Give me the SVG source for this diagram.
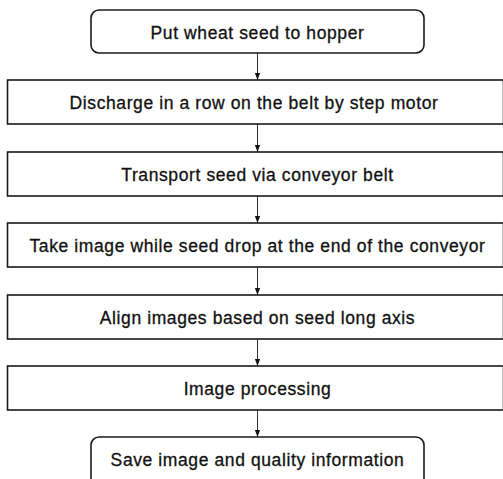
<svg xmlns="http://www.w3.org/2000/svg" width="503" height="479" viewBox="0 0 503 479">
<style>
.box{fill:#fff;stroke:#1a1a1a;stroke-width:1.6}
.t{font-family:"Liberation Sans",Arial,sans-serif;font-size:17.5px;letter-spacing:0.6px;fill:#111;stroke:#111;stroke-width:0.3;text-anchor:middle}
.c{stroke:#333;stroke-width:1;fill:none;marker-end:url(#ah)}
</style>
<defs>
<marker id="ah" viewBox="0 0 8 8" refX="8" refY="4" markerWidth="7" markerHeight="7" markerUnits="userSpaceOnUse" orient="auto">
<path d="M0,1 L8,4 L0,7 Z" fill="#111"/>
</marker>
</defs>
<rect width="503" height="479" fill="#fff"/>
<g id="connectors">
<line class="c" x1="257.5" y1="53" x2="257.5" y2="80"/>
<line class="c" x1="257.5" y1="124" x2="257.5" y2="152"/>
<line class="c" x1="257.5" y1="196" x2="257.5" y2="223"/>
<line class="c" x1="257.5" y1="267" x2="257.5" y2="295"/>
<line class="c" x1="257.5" y1="339" x2="257.5" y2="366"/>
<line class="c" x1="257.5" y1="410" x2="257.5" y2="437"/>
</g>
<g id="n1"><rect class="box" x="91" y="10" width="333" height="43" rx="8"/><text class="t" x="257.5" y="38.5">Put wheat seed to hopper</text></g>
<g id="n2"><rect class="box" x="7.5" y="80" width="496" height="44"/><text class="t" x="254" y="109">Discharge in a row on the belt by step motor</text></g>
<g id="n3"><rect class="box" x="7.5" y="152" width="496" height="44"/><text class="t" x="257.5" y="181">Transport seed via conveyor belt</text></g>
<g id="n4"><rect class="box" x="7.5" y="223" width="496" height="44"/><text class="t" x="257.5" y="252">Take image while seed drop at the end of the conveyor</text></g>
<g id="n5"><rect class="box" x="7.5" y="295" width="496" height="44"/><text class="t" x="257.5" y="324">Align images based on seed long axis</text></g>
<g id="n6"><rect class="box" x="7.5" y="366" width="496" height="44"/><text class="t" x="257.5" y="395">Image processing</text></g>
<g id="n7"><rect class="box" x="91" y="437" width="333" height="50" rx="8"/><text class="t" x="257.5" y="466">Save image and quality information</text></g>
</svg>
